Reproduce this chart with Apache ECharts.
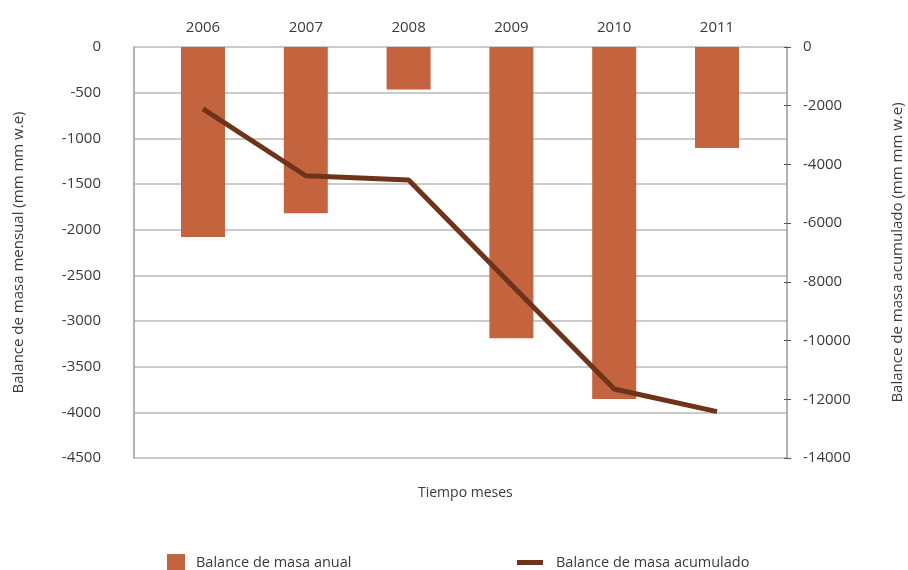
<!DOCTYPE html>
<html>
<head>
<meta charset="utf-8">
<script src="https://cdn.jsdelivr.net/npm/echarts@6/dist/echarts.min.js"></script>
<style>
html, body { margin: 0; padding: 0; background: #fff; }
#main { width: 908px; height: 570px; }
</style>
</head>
<body>
<div id="main"></div>
<script>
// años
const years = ['2006', '2007', '2008', '2009', '2010', '2011'];
// balance anual (eje izq.)
const anual = [-2080, -1820, -465, -3190, -3855, -1105];
// balance acumulado (eje der.)
const acumulado = [-2110, -4385, -4530, -8100, -11650, -12420];

const leftMin = -4500, leftMax = 0, leftStep = 500;
const rightMin = -14000, rightMax = 0, rightStep = 2000;

const barName = 'Balance de masa anual';
const lineName = 'Balance de masa acumulado';

const font = "'Open Sans', sans-serif";
const txt = '#3a3a3a';
const axisGray = '#9a9a9a';

var myChart = echarts.init(document.getElementById('main'));
let option = {
    animation: false,
    textStyle: { fontFamily: font },
    grid: [
        // marco y rejilla
        { left: 134, right: 121, top: 47, bottom: 112, outerBoundsMode: 'none' },
        // zona de categorias
        { left: 151.6, right: 139.6, top: 47, bottom: 112, outerBoundsMode: 'none' }
    ],
    graphic: [
        {
            type: 'text',
            left: 418, top: 486,
            style: {
                text: 'Tiempo meses',
                fill: txt, font: '14px ' + font
            }
        }
    ],
    legend: [
        {
            data: [barName],
            left: 167, top: 554,
            padding: 0,
            icon: 'rect',
            itemWidth: 18, itemHeight: 18,
            formatter: '{a|{name}}',
            textStyle: { color: txt, fontSize: 14.5, rich: { a: { fontSize: 14.5, padding: [0, 0, 0, 6] } } }
        },
        {
            data: [lineName],
            left: 517, top: 555,
            padding: 0,
            icon: 'rect',
            itemWidth: 26, itemHeight: 5,
            formatter: '{a|{name}}',
            textStyle: { color: txt, fontSize: 14.5, rich: { a: { fontSize: 14.5, padding: [0, 0, 0, 8] } } }
        }
    ],
    xAxis: [
        { gridIndex: 0, type: 'value', min: 0, max: 1, show: false },
        {
            gridIndex: 1,
            type: 'category',
            position: 'top',
            data: years,
            axisLine: { show: false },
            axisTick: { show: false },
            axisLabel: { color: txt, fontSize: 15, margin: 12 }
        }
    ],
    yAxis: [
        {
            gridIndex: 0,
            type: 'value',
            position: 'left',
            min: leftMin, max: leftMax, interval: leftStep,
            name: 'Balance de masa mensual (mm mm w.e)',
            nameLocation: 'middle',
            nameRotate: 90,
            nameGap: 108,
            nameTextStyle: { color: txt, fontSize: 15 },
            axisLine: { show: true, lineStyle: { color: axisGray, width: 1.5 } },
            axisTick: { show: false },
            axisLabel: { color: txt, fontSize: 15, margin: 33, formatter: v => String(v) },
            splitLine: { show: true, lineStyle: { color: '#b8b8b8', width: 1.5 } }
        },
        {
            gridIndex: 0,
            type: 'value',
            position: 'right',
            min: rightMin, max: rightMax, interval: rightStep,
            name: 'Balance de masa acumulado (mm mm w.e)',
            nameLocation: 'middle',
            nameRotate: 90,
            nameGap: 103,
            nameTextStyle: { color: txt, fontSize: 15 },
            axisLine: { show: true, lineStyle: { color: axisGray, width: 1.5 } },
            axisTick: { show: true, length: 4, lineStyle: { color: '#555' } },
            axisLabel: { color: txt, fontSize: 15, margin: 16, formatter: v => String(v) },
            splitLine: { show: false }
        },
        {
            gridIndex: 0,
            type: 'value',
            position: 'right',
            min: rightMin, max: rightMax, interval: rightStep,
            axisLine: { show: false },
            axisTick: { show: true, inside: true, length: 3, lineStyle: { color: '#555' } },
            axisLabel: { show: false },
            splitLine: { show: false }
        },
        { gridIndex: 1, type: 'value', min: leftMin, max: leftMax, show: false },
        { gridIndex: 1, type: 'value', min: rightMin, max: rightMax, show: false }
    ],
    series: [
        {
            name: barName,
            type: 'bar',
            xAxisIndex: 1,
            yAxisIndex: 3,
            barWidth: 44,
            data: anual,
            itemStyle: { color: '#c4643e' }
        },
        {
            name: lineName,
            type: 'line',
            xAxisIndex: 1,
            yAxisIndex: 4,
            data: acumulado,
            symbol: 'none',
            lineStyle: { color: '#6e3419', width: 5 },
            itemStyle: { color: '#6e3419' }
        }
    ]
};
myChart.setOption(option);
</script>
</body>
</html>
